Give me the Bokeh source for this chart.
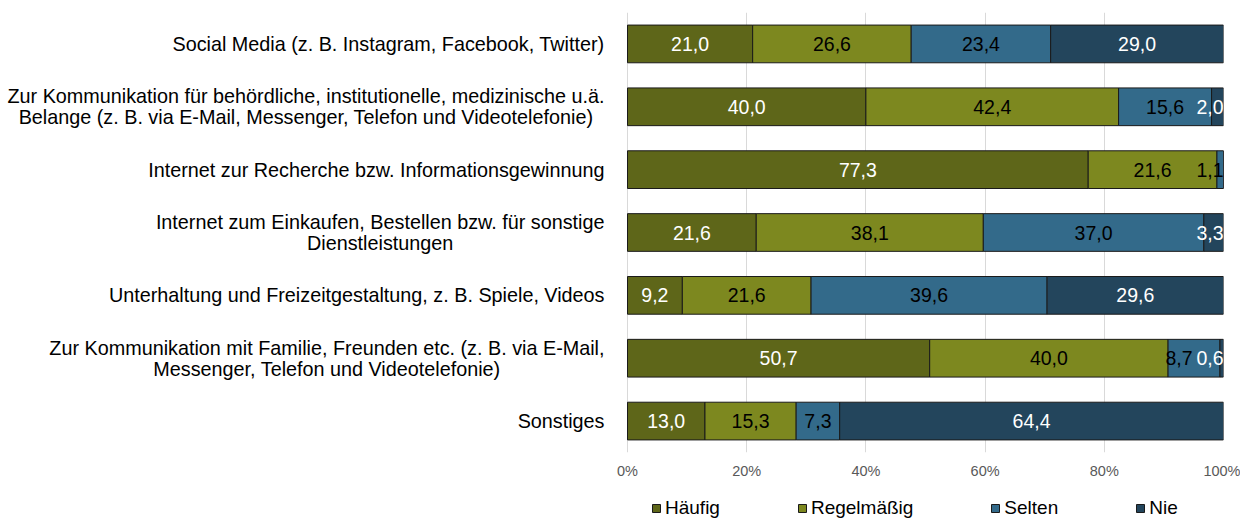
from bokeh.plotting import figure
from bokeh.layouts import column
from bokeh.models import ColumnDataSource, FactorRange, Range1d, FixedTicker, Legend, LegendItem
from bokeh.core.properties import value
from bokeh.embed import file_html
from bokeh.resources import INLINE

categories = [
    "Social Media (z. B. Instagram, Facebook, Twitter)",
    "Zur Kommunikation für behördliche, institutionelle, medizinische u.ä.\nBelange (z. B. via E-Mail, Messenger, Telefon und Videotelefonie)",
    "Internet zur Recherche bzw. Informationsgewinnung",
    "Internet zum Einkaufen, Bestellen bzw. für sonstige\nDienstleistungen",
    "Unterhaltung und Freizeitgestaltung, z. B. Spiele, Videos",
    "Zur Kommunikation mit Familie, Freunden etc. (z. B. via E-Mail,\nMessenger, Telefon und Videotelefonie)",
    "Sonstiges",
]
series = ["Häufig", "Regelmäßig", "Selten", "Nie"]
haeufig = [21.0, 40.0, 77.3, 21.6, 9.2, 50.7, 13.0]
regelmaessig = [26.6, 42.4, 21.6, 38.1, 21.6, 40.0, 15.3]
selten = [23.4, 15.6, 1.1, 37.0, 39.6, 8.7, 7.3]
nie = [29.0, 2.0, 0.0, 3.3, 29.6, 0.6, 64.4]
tick_values = [0, 20, 40, 60, 80, 100]
tick_labels = ["0%", "20%", "40%", "60%", "80%", "100%"]

colors = ["#5E6619", "#7D881F", "#336A8A", "#23455C"]
label_colors = ["#FFFFFF", "#000000", "#000000", "#FFFFFF"]
FONT = "Liberation Sans"

# layout (pixels)
W = 1240
H1, H2 = 490, 29
zero_px = 627          # x of 0% inside figure
full_px = 596          # width of 0..100%
right_border = W - zero_px - full_px
x_start = -zero_px / full_px * 100

data = {"cat": categories, "Häufig": haeufig, "Regelmäßig": regelmaessig, "Selten": selten, "Nie": nie}
src = ColumnDataSource(data)

p = figure(width=W, height=H1, output_backend="svg", toolbar_location=None,
           y_range=FactorRange(factors=list(reversed(categories)), range_padding=0),
           x_range=Range1d(x_start, 100),
           min_border_left=0, min_border_right=right_border, min_border_top=12, min_border_bottom=38)
p.outline_line_color = None
p.background_fill_color = "white"
p.border_fill_color = "white"

rs = p.hbar_stack(series, y="cat", height=0.6, color=colors, source=src,
                  line_color="#1A1A1A", line_width=1)

# data labels (small end segments are right-aligned at the bar end;
# the label just before such a segment is nudged left to avoid overlap)
vals = [haeufig, regelmaessig, selten, nie]
n = len(categories)
ends = [[sum(v[i] for v in vals[:k + 1]) for i in range(n)] for k in range(len(vals))]

def is_small_end(k, i):
    return 0 < vals[k][i] < 5 and ends[k][i] >= 99.9

for k, (s, v, lc) in enumerate(zip(series, vals, label_colors)):
    cx, cy, ct, co, rx, ry, rt = [], [], [], [], [], [], []
    for i, c in enumerate(categories):
        if v[i] <= 0:
            continue
        t = f"{v[i]:.1f}".replace(".", ",")
        if is_small_end(k, i):
            rx.append(ends[k][i]); ry.append(c); rt.append(t)
        else:
            nudge = 0
            if k + 1 < len(vals) and is_small_end(k + 1, i) and v[i] < 10:
                nudge = -15
            cx.append(ends[k][i] - v[i] / 2); cy.append(c); ct.append(t); co.append(nudge)
    p.text(x=cx, y=cy, text=ct, x_offset=co, text_align="center", text_baseline="middle",
           text_color=lc, text_font=value(FONT), text_font_size="19.5px")
    if rx:
        p.text(x=rx, y=ry, text=rt, text_align="right", text_baseline="middle", x_offset=0,
               text_color=lc, text_font=value(FONT), text_font_size="19.5px")

# category labels
p.text(x=[0] * len(categories), y=categories, text=categories, x_offset=-23,
       anchor="center_right", text_align="center", text_baseline="middle",
       text_color="#000000", text_font=value(FONT), text_font_size="19.8px",
       text_line_height=0.95)

p.yaxis.visible = False
p.ygrid.grid_line_color = None
p.xaxis.ticker = FixedTicker(ticks=tick_values)
p.xaxis.major_label_overrides = {t: l for t, l in zip(tick_values, tick_labels)}
p.xaxis.axis_line_color = None
p.xaxis.major_tick_line_color = None
p.xaxis.minor_tick_line_color = None
p.xaxis.major_label_standoff = 4
p.xaxis.major_label_text_font = FONT
p.xaxis.major_label_text_font_size = "14.5px"
p.xaxis.major_label_text_color = "#595959"
p.xgrid.ticker = FixedTicker(ticks=tick_values)
p.xgrid.grid_line_color = "#D9D9D9"

# legend strip (legend swatches taken from off-screen proxy bars)
q = figure(width=W, height=H2, output_backend="svg", toolbar_location=None,
           x_range=Range1d(0, 1), y_range=Range1d(0, 1), min_border=0)
q.axis.visible = False
q.grid.visible = False
q.outline_line_color = None
q.background_fill_color = "white"
q.border_fill_color = "white"
dummies = [q.hbar(y=[-10], left=[-10], right=[-9], height=1, color=c, line_color="#1A1A1A")
           for c in colors]
legend = Legend(items=[LegendItem(label=s, renderers=[r]) for s, r in zip(series, dummies)],
                orientation="horizontal", location=(651, 0), spacing=77,
                glyph_width=10, glyph_height=10, label_standoff=4,
                label_text_font=FONT, label_text_font_size="19px", label_text_color="#000000",
                padding=0, margin=0, border_line_color=None, background_fill_alpha=0)
q.add_layout(legend, "center")

layout = column(p, q, spacing=0)
open("out.html", "w").write(file_html(layout, INLINE))
